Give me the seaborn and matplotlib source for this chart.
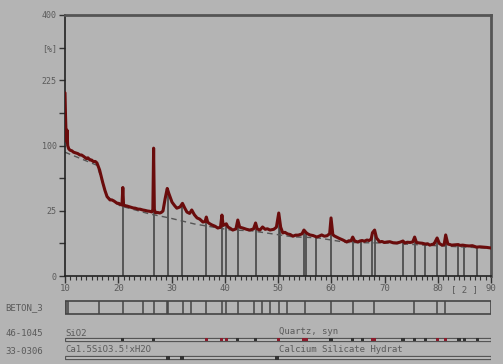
import numpy as np
import matplotlib.pyplot as plt
from matplotlib.patches import Rectangle
import seaborn as sns

two_theta = [10.0, 10.1, 10.2, 10.3, 10.38, 10.5, 10.7, 10.94, 11.3, 11.6, 12.0, 12.4, 12.8,
             13.1, 13.5, 14.0, 14.3, 14.7, 15.0, 15.3, 15.7, 16.0, 16.5, 17.1, 17.5, 17.9,
             18.45, 18.8, 19.2, 19.8, 20.1, 20.4, 20.7, 20.86, 21.0, 21.3, 21.6, 22.2, 22.8,
             23.2, 23.7, 24.1, 24.6, 25.0, 25.5, 25.9, 26.3, 26.5, 26.64, 26.78, 27.0, 27.4,
             27.8, 28.1, 28.4, 28.8, 29.2, 29.5, 30.1, 30.6, 31.0, 31.6, 32.06, 32.5, 32.9,
             33.4, 33.8, 34.3, 34.8, 35.3, 35.9, 36.3, 36.54, 36.8, 37.2, 37.6, 38.2, 38.7,
             39.2, 39.47, 39.7, 40.29, 40.6, 41.0, 41.5, 42.1, 42.45, 42.8, 43.4, 44.1, 44.7,
             45.4, 45.79, 46.1, 46.6, 47.1, 47.6, 48.0, 48.5, 49.2, 49.7, 50.14, 50.5, 50.9,
             51.3, 51.8, 52.3, 52.8, 53.3, 53.8, 54.5, 54.87, 55.3, 55.6, 56.0, 56.6, 57.3,
             57.8, 58.2, 58.7, 59.2, 59.7, 59.96, 60.3, 60.6, 61.0, 61.5, 62.2, 62.9, 63.3,
             63.7, 64.03, 64.4, 65.0, 65.4, 65.8, 66.2, 66.7, 67.1, 67.5, 67.74, 68.14, 68.5,
             69.1, 69.5, 70.0, 70.5, 71.0, 71.6, 72.3, 72.9, 73.47, 73.8, 74.3, 74.8, 75.3,
             75.66, 76.0, 76.6, 77.1, 77.67, 78.1, 78.5, 79.0, 79.3, 79.88, 80.3, 80.8, 81.2,
             81.49, 81.9, 82.3, 82.6, 83.2, 83.84, 84.2, 84.7, 85.3, 85.9, 86.5, 87.3, 87.9,
             88.5, 89.2, 90.0]
intensity = [197, 150, 118, 106, 125, 100, 95, 93, 92, 90, 89, 88, 86,
             86, 84, 81, 82, 79, 79, 77, 77, 75, 66, 51, 43, 37,
             34, 34, 33, 31, 31, 30, 29.6, 46, 29.5, 29, 28.8, 28, 27.2,
             27, 26.3, 26.2, 25.6, 25.3, 24.8, 24.6, 24.1, 26, 96, 26, 23.5, 23.7,
             23.3, 23.8, 24.8, 35, 45, 40, 32, 29, 27, 28, 31, 27, 24,
             23, 25.6, 22, 19.8, 19, 17.1, 17.4, 20.4, 17, 16, 15.3, 14.5, 13.5,
             14, 21.8, 15, 16, 14.1, 13.4, 12.4, 13, 18.4, 14, 13.5, 12.8, 12.4,
             13, 16.5, 13, 12.4, 14.1, 12.8, 13.1, 12.4, 12.8, 14, 23.3, 14, 10.9,
             11.2, 10.4, 10.1, 9.3, 9.8, 9.8, 10.4, 12.4, 11, 10.4, 9.9, 9.6, 8.9,
             9.4, 9.9, 9.3, 9.5, 10.5, 19.8, 10, 9.4, 8.9, 8.3, 7.6, 6.8, 7.3,
             7.2, 8.9, 7.2, 6.8, 7.2, 7.4, 7.1, 7.6, 7.4, 8, 11, 12.4, 8.5,
             6.8, 7.0, 6.6, 6.8, 6.9, 6.5, 6.4, 6.7, 7.2, 6.4, 6.7, 6.6, 6.8,
             8.9, 6.6, 6.4, 6.3, 6.0, 6.1, 5.6, 5.9, 6.0, 8.5, 6.2, 5.6, 5.8,
             9.9, 6.0, 5.8, 5.6, 5.7, 5.8, 5.5, 5.6, 5.4, 5.3, 5.4, 4.9, 5.0,
             4.9, 4.8, 4.6]

# Background (dashed)
bg_theta = [10.0, 16.0, 17.9, 20.3, 25.9, 29.6, 34.3, 40.9, 45.0, 52.8, 57.3, 62.9, 70.0, 78.5, 90.0]
bg_int = [90, 72, 37, 29, 22.6, 19.8, 15.9, 12.5, 12.0, 9.0, 8.6, 6.6, 6.4, 5.5, 4.5]

# Stick lines in the main plot
sticks = [20.86, 26.64, 29.25, 32.06, 36.54, 39.47, 40.29, 42.45, 45.79, 50.14, 50.4,
          54.87, 55.33, 57.1, 59.96, 64.03, 65.5, 67.74, 68.14, 73.47, 75.66, 77.67,
          79.88, 81.49, 83.84, 84.95, 87.44]

# Peak list BETON_3
beton_peaks = [10.2, 10.6, 16.4, 20.85, 24.6, 26.64, 29.2, 29.4, 32.1, 33.7, 36.55, 39.5,
               40.3, 42.5, 45.5, 47.0, 48.5, 50.2, 51.7, 55.0, 59.9, 64.0, 68.1, 75.6, 79.9, 81.4]

# Reference 46-1045 Quartz
quartz_pos = [20.86, 26.64, 36.54, 39.47, 40.29, 42.45, 45.79, 50.14, 54.87, 55.33, 59.96,
              64.03, 65.79, 67.74, 68.14, 73.47, 75.66, 77.67, 79.88, 81.49, 84.0, 84.95, 87.44]
quartz_match = [36.54, 39.47, 40.29, 50.14, 54.87, 55.33, 67.74, 68.14, 79.88, 81.49]

# Reference 33-0306 CSH
csh_pos = [29.25, 32.06, 49.8]

yticks = [0, 6.25, 25, 56.25, 100, 156.25, 225, 306.25, 400]
ylabels = ['0', '', '25', '', '100', '', '225', '[%]', '400']
xticks = [10, 20, 30, 40, 50, 60, 70, 80, 90]
xlabels = ['10', '20', '30', '40', '50', '60', '70', '80', '90']

bgc = '#b4b4b4'
txtc = '#5a5a5a'
mono = 'DejaVu Sans Mono'

sns.set_theme(style='ticks')
fig = plt.figure(figsize=(5.03, 3.64), dpi=100, facecolor=bgc)
W, H = 503, 364

ax = fig.add_axes([65 / W, 1 - 276 / H, 426 / W, 261 / H], facecolor=bgc)
ax.set_yscale('function', functions=(lambda v: np.sqrt(np.clip(v, 0, None)), lambda v: v ** 2))

stick_h = np.interp(sticks, two_theta, intensity)
ax.vlines(sticks, 0, stick_h, color='#3c3c3c', lw=1.1, zorder=1)
sns.lineplot(x=bg_theta, y=bg_int, ax=ax, color='#555555', lw=1.0, linestyle=(0, (4, 3)), zorder=2)
sns.lineplot(x=two_theta, y=intensity, ax=ax, color='#6a0c0c', lw=2.2, zorder=3)

ax.set_xlim(10, 90)
ax.set_ylim(0, 400)
ax.set_yticks(yticks)
ax.set_yticklabels(ylabels, family=mono, fontsize=6, color=txtc)
ax.set_xticks(xticks)
ax.set_xticklabels(xlabels, family=mono, fontsize=6.5, color=txtc)
ax.set_xticks(np.arange(10, 91, 1), minor=True)
ax.tick_params(axis='x', which='major', length=5, width=1, color='#333333', pad=1)
ax.tick_params(axis='x', which='minor', length=3, width=0.8, color='#333333')
ax.tick_params(axis='y', length=4, width=1, color='#333333', pad=2)
ax.text(85, -0.035, '[ 2 ]', transform=ax.get_xaxis_transform(), ha='center', va='top',
        family=mono, fontsize=6.5, color=txtc)
for s in ['left', 'bottom']:
    ax.spines[s].set_color('#222222')
    ax.spines[s].set_linewidth(1.2)
for s in ['top', 'right']:
    ax.spines[s].set_color('#555555')
    ax.spines[s].set_linewidth(2.0)

# lower panel with peak list and reference patterns (y in pixel rows)
ax2 = fig.add_axes([65 / W, 0, 426 / W, 72 / H])
ax2.set_xlim(10, 90)
ax2.set_ylim(364, 292)
ax2.axis('off')

ax2.add_patch(Rectangle((10, 301), 80, 13, fill=False, ec='#444444', lw=1.2))
ax2.vlines(beton_peaks, 301, 314, color='#444444', lw=1.1)

ax2.add_patch(Rectangle((10, 338), 80, 3, fc='#c4c4c4', ec='#555555', lw=0.9))
qcol = ['#8a1c2c' if q in quartz_match else '#333333' for q in quartz_pos]
ax2.scatter(quartz_pos, [339.5] * len(quartz_pos), marker='s', s=5, c=qcol, lw=0, zorder=3)

ax2.add_patch(Rectangle((10, 356), 80, 3, fc='#c4c4c4', ec='#555555', lw=0.9))
ax2.scatter(csh_pos, [357.5] * len(csh_pos), marker='s', s=5, c='#333333', lw=0, zorder=3)

ax2.text(10, 333, 'SiO2', family=mono, fontsize=6.5, color=txtc, va='center', ha='left')
ax2.text(50.2, 332, 'Quartz, syn', family=mono, fontsize=6.5, color=txtc, va='center', ha='left')
ax2.text(10, 350, 'Ca1.5SiO3.5!xH2O', family=mono, fontsize=6.5, color=txtc, va='center', ha='left')
ax2.text(50.2, 350, 'Calcium Silicate Hydrat', family=mono, fontsize=6.5, color=txtc,
         va='center', ha='left')

fig.text(5 / W, 1 - 308 / H, 'BETON_3', family=mono, fontsize=6.5, color=txtc, va='center')
fig.text(5 / W, 1 - 333 / H, '46-1045', family=mono, fontsize=6.5, color=txtc, va='center')
fig.text(5 / W, 1 - 351 / H, '33-0306', family=mono, fontsize=6.5, color=txtc, va='center')

fig.savefig('out.png', dpi=100, facecolor=bgc)
